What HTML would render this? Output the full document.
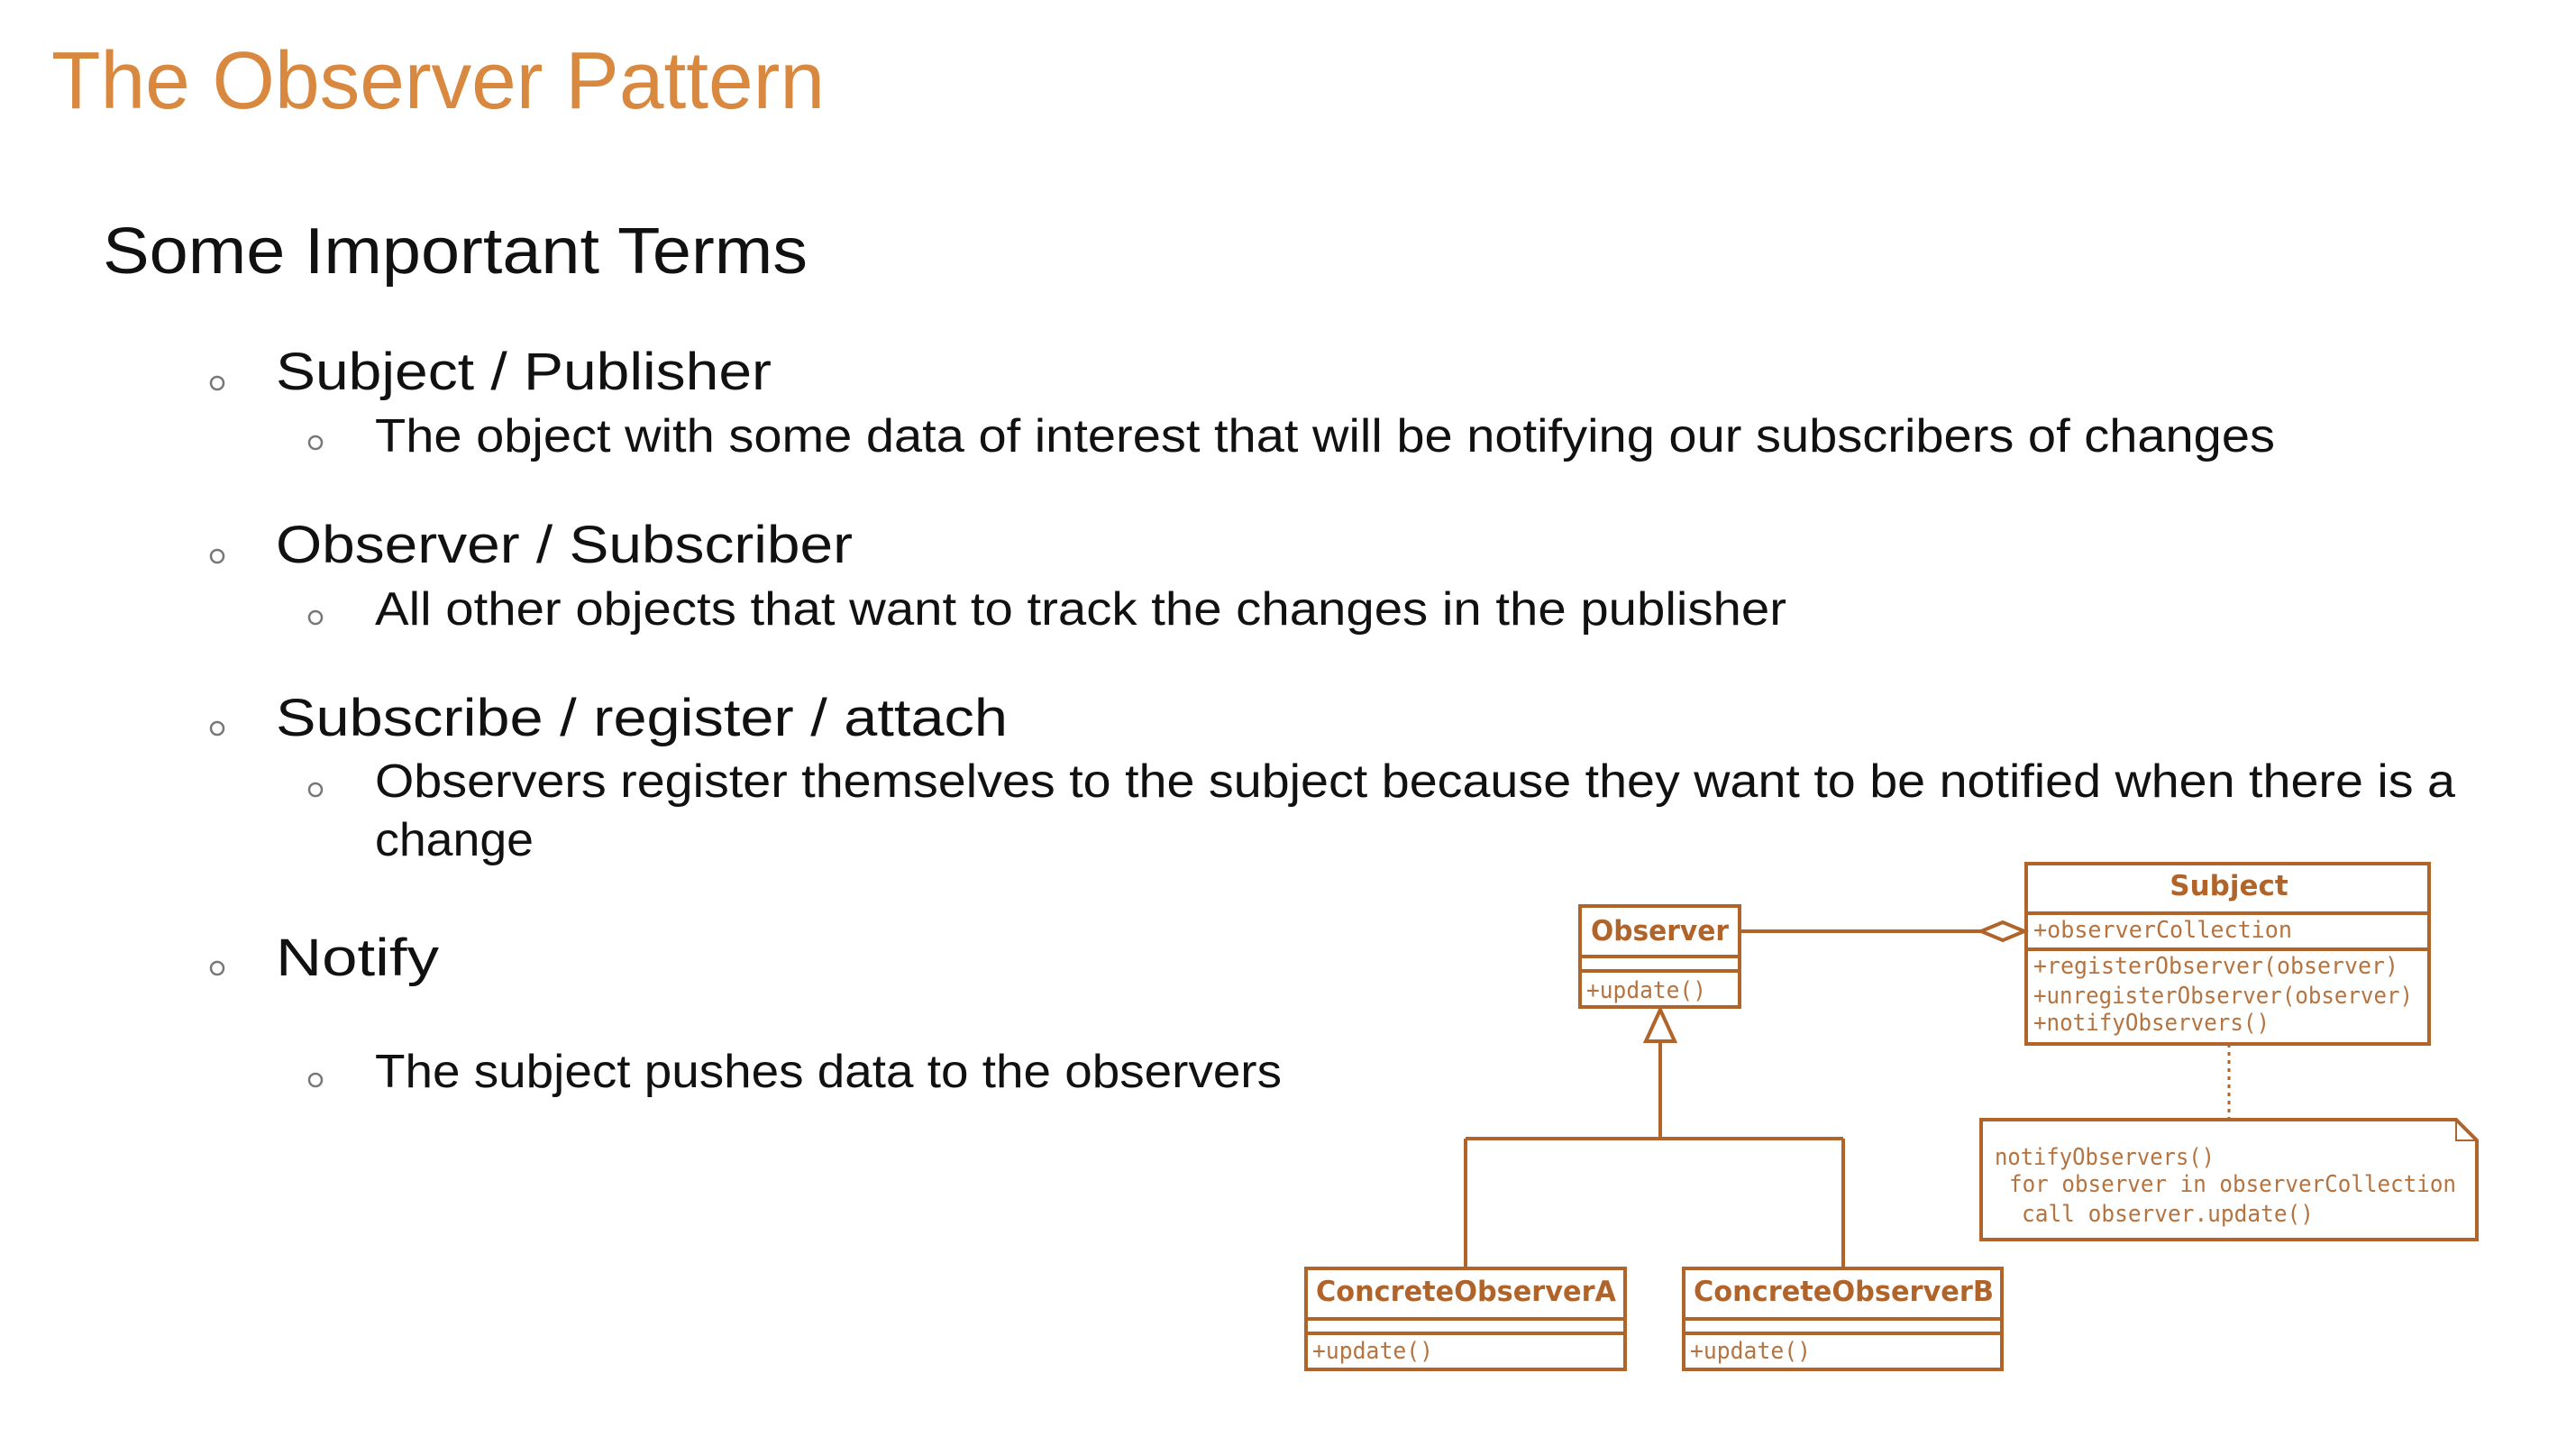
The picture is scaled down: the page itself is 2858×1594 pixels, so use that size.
<!DOCTYPE html>
<html><head><meta charset="utf-8"><style>html,body{margin:0;padding:0;background:#fff}svg{display:block}</style></head>
<body>
<svg width="2858" height="1594" viewBox="0 0 2858 1594" xmlns="http://www.w3.org/2000/svg">
<rect width="2858" height="1594" fill="#fff"/>
<g font-family="Liberation Sans, sans-serif">
<text x="57" y="120" font-size="90" fill="#d9893f" textLength="858" lengthAdjust="spacingAndGlyphs">The Observer Pattern</text>
<text x="114" y="303" font-size="72" fill="#111" textLength="782" lengthAdjust="spacingAndGlyphs">Some Important Terms</text>
<g fill="#111">
<text x="306" y="432" font-size="58" textLength="550" lengthAdjust="spacingAndGlyphs">Subject / Publisher</text>
<text x="416" y="501" font-size="52" textLength="2108" lengthAdjust="spacingAndGlyphs">The object with some data of interest that will be notifying our subscribers of changes</text>
<text x="306" y="624" font-size="58" textLength="640" lengthAdjust="spacingAndGlyphs">Observer / Subscriber</text>
<text x="416" y="693" font-size="52" textLength="1566" lengthAdjust="spacingAndGlyphs">All other objects that want to track the changes in the publisher</text>
<text x="306" y="816" font-size="58" textLength="812" lengthAdjust="spacingAndGlyphs">Subscribe / register / attach</text>
<text x="416" y="884" font-size="52" textLength="2308" lengthAdjust="spacingAndGlyphs">Observers register themselves to the subject because they want to be notified when there is a</text>
<text x="416" y="949" font-size="52" textLength="176" lengthAdjust="spacingAndGlyphs">change</text>
<text x="306" y="1082" font-size="58" textLength="181" lengthAdjust="spacingAndGlyphs">Notify</text>
<text x="416" y="1206" font-size="52" textLength="1006" lengthAdjust="spacingAndGlyphs">The subject pushes data to the observers</text>
</g>
<g fill="none" stroke="#777" stroke-width="2.5">
<circle cx="241" cy="425" r="7"/><circle cx="350" cy="491" r="7"/>
<circle cx="241" cy="617" r="7"/><circle cx="350" cy="685" r="7"/>
<circle cx="241" cy="808" r="7"/><circle cx="350" cy="876" r="7"/>
<circle cx="241" cy="1074" r="7"/><circle cx="350" cy="1198" r="7"/>
</g>
</g>
<g stroke="#b0642a" stroke-width="4" fill="none">
<rect x="1753" y="1005" width="177" height="112" fill="#fff"/>
<line x1="1753" y1="1061" x2="1930" y2="1061"/><line x1="1753" y1="1077" x2="1930" y2="1077"/>
<rect x="2248" y="958" width="447" height="200" fill="#fff"/>
<line x1="2248" y1="1013" x2="2695" y2="1013"/><line x1="2248" y1="1053" x2="2695" y2="1053"/>
<line x1="1930" y1="1033" x2="2198" y2="1033"/>
<polygon points="2198,1033 2222,1023 2246,1033 2222,1043" fill="#fff"/>
<polygon points="1842,1120 1826,1155 1858,1155" fill="#fff"/>
<line x1="1842" y1="1155" x2="1842" y2="1263"/>
<line x1="1626" y1="1263" x2="2045" y2="1263"/>
<line x1="1626" y1="1263" x2="1626" y2="1407"/>
<line x1="2045" y1="1263" x2="2045" y2="1407"/>
<rect x="1449" y="1407" width="354" height="112" fill="#fff"/>
<line x1="1449" y1="1463" x2="1803" y2="1463"/><line x1="1449" y1="1479" x2="1803" y2="1479"/>
<rect x="1868" y="1407" width="353" height="112" fill="#fff"/>
<line x1="1868" y1="1463" x2="2221" y2="1463"/><line x1="1868" y1="1479" x2="2221" y2="1479"/>
<line x1="2473" y1="1158" x2="2473" y2="1242" stroke-width="3" stroke-dasharray="4,5"/>
<path d="M2198,1242 L2725,1242 L2748,1265 L2748,1375 L2198,1375 Z" fill="#fff"/>
<path d="M2725,1242 L2725,1265 L2748,1265" stroke-width="2"/>
</g>
<g fill="#b0642a" font-family="DejaVu Sans, sans-serif" font-weight="bold" font-size="31">
<text x="1765" y="1043" textLength="153" lengthAdjust="spacingAndGlyphs">Observer</text>
<text x="2473" y="993" text-anchor="middle">Subject</text>
<text x="1460" y="1443" textLength="333" lengthAdjust="spacingAndGlyphs">ConcreteObserverA</text>
<text x="1879" y="1443" textLength="333" lengthAdjust="spacingAndGlyphs">ConcreteObserverB</text>
</g>
<g fill="#b5733f" font-family="DejaVu Sans Mono, Liberation Mono, monospace" font-size="26">
<text x="1760" y="1107" textLength="133" lengthAdjust="spacingAndGlyphs">+update()</text>
<text x="1456" y="1507" textLength="134" lengthAdjust="spacingAndGlyphs">+update()</text>
<text x="1875" y="1507" textLength="134" lengthAdjust="spacingAndGlyphs">+update()</text>
<text x="2256" y="1040" textLength="287" lengthAdjust="spacingAndGlyphs">+observerCollection</text>
<text x="2256" y="1080" textLength="405" lengthAdjust="spacingAndGlyphs">+registerObserver(observer)</text>
<text x="2256" y="1113" textLength="421" lengthAdjust="spacingAndGlyphs">+unregisterObserver(observer)</text>
<text x="2256" y="1143" textLength="262" lengthAdjust="spacingAndGlyphs">+notifyObservers()</text>
<text x="2213" y="1292" textLength="244" lengthAdjust="spacingAndGlyphs">notifyObservers()</text>
<text x="2229" y="1322" textLength="496" lengthAdjust="spacingAndGlyphs">for observer in observerCollection</text>
<text x="2243" y="1355" textLength="324" lengthAdjust="spacingAndGlyphs">call observer.update()</text>
</g>
</svg>
</body></html>
